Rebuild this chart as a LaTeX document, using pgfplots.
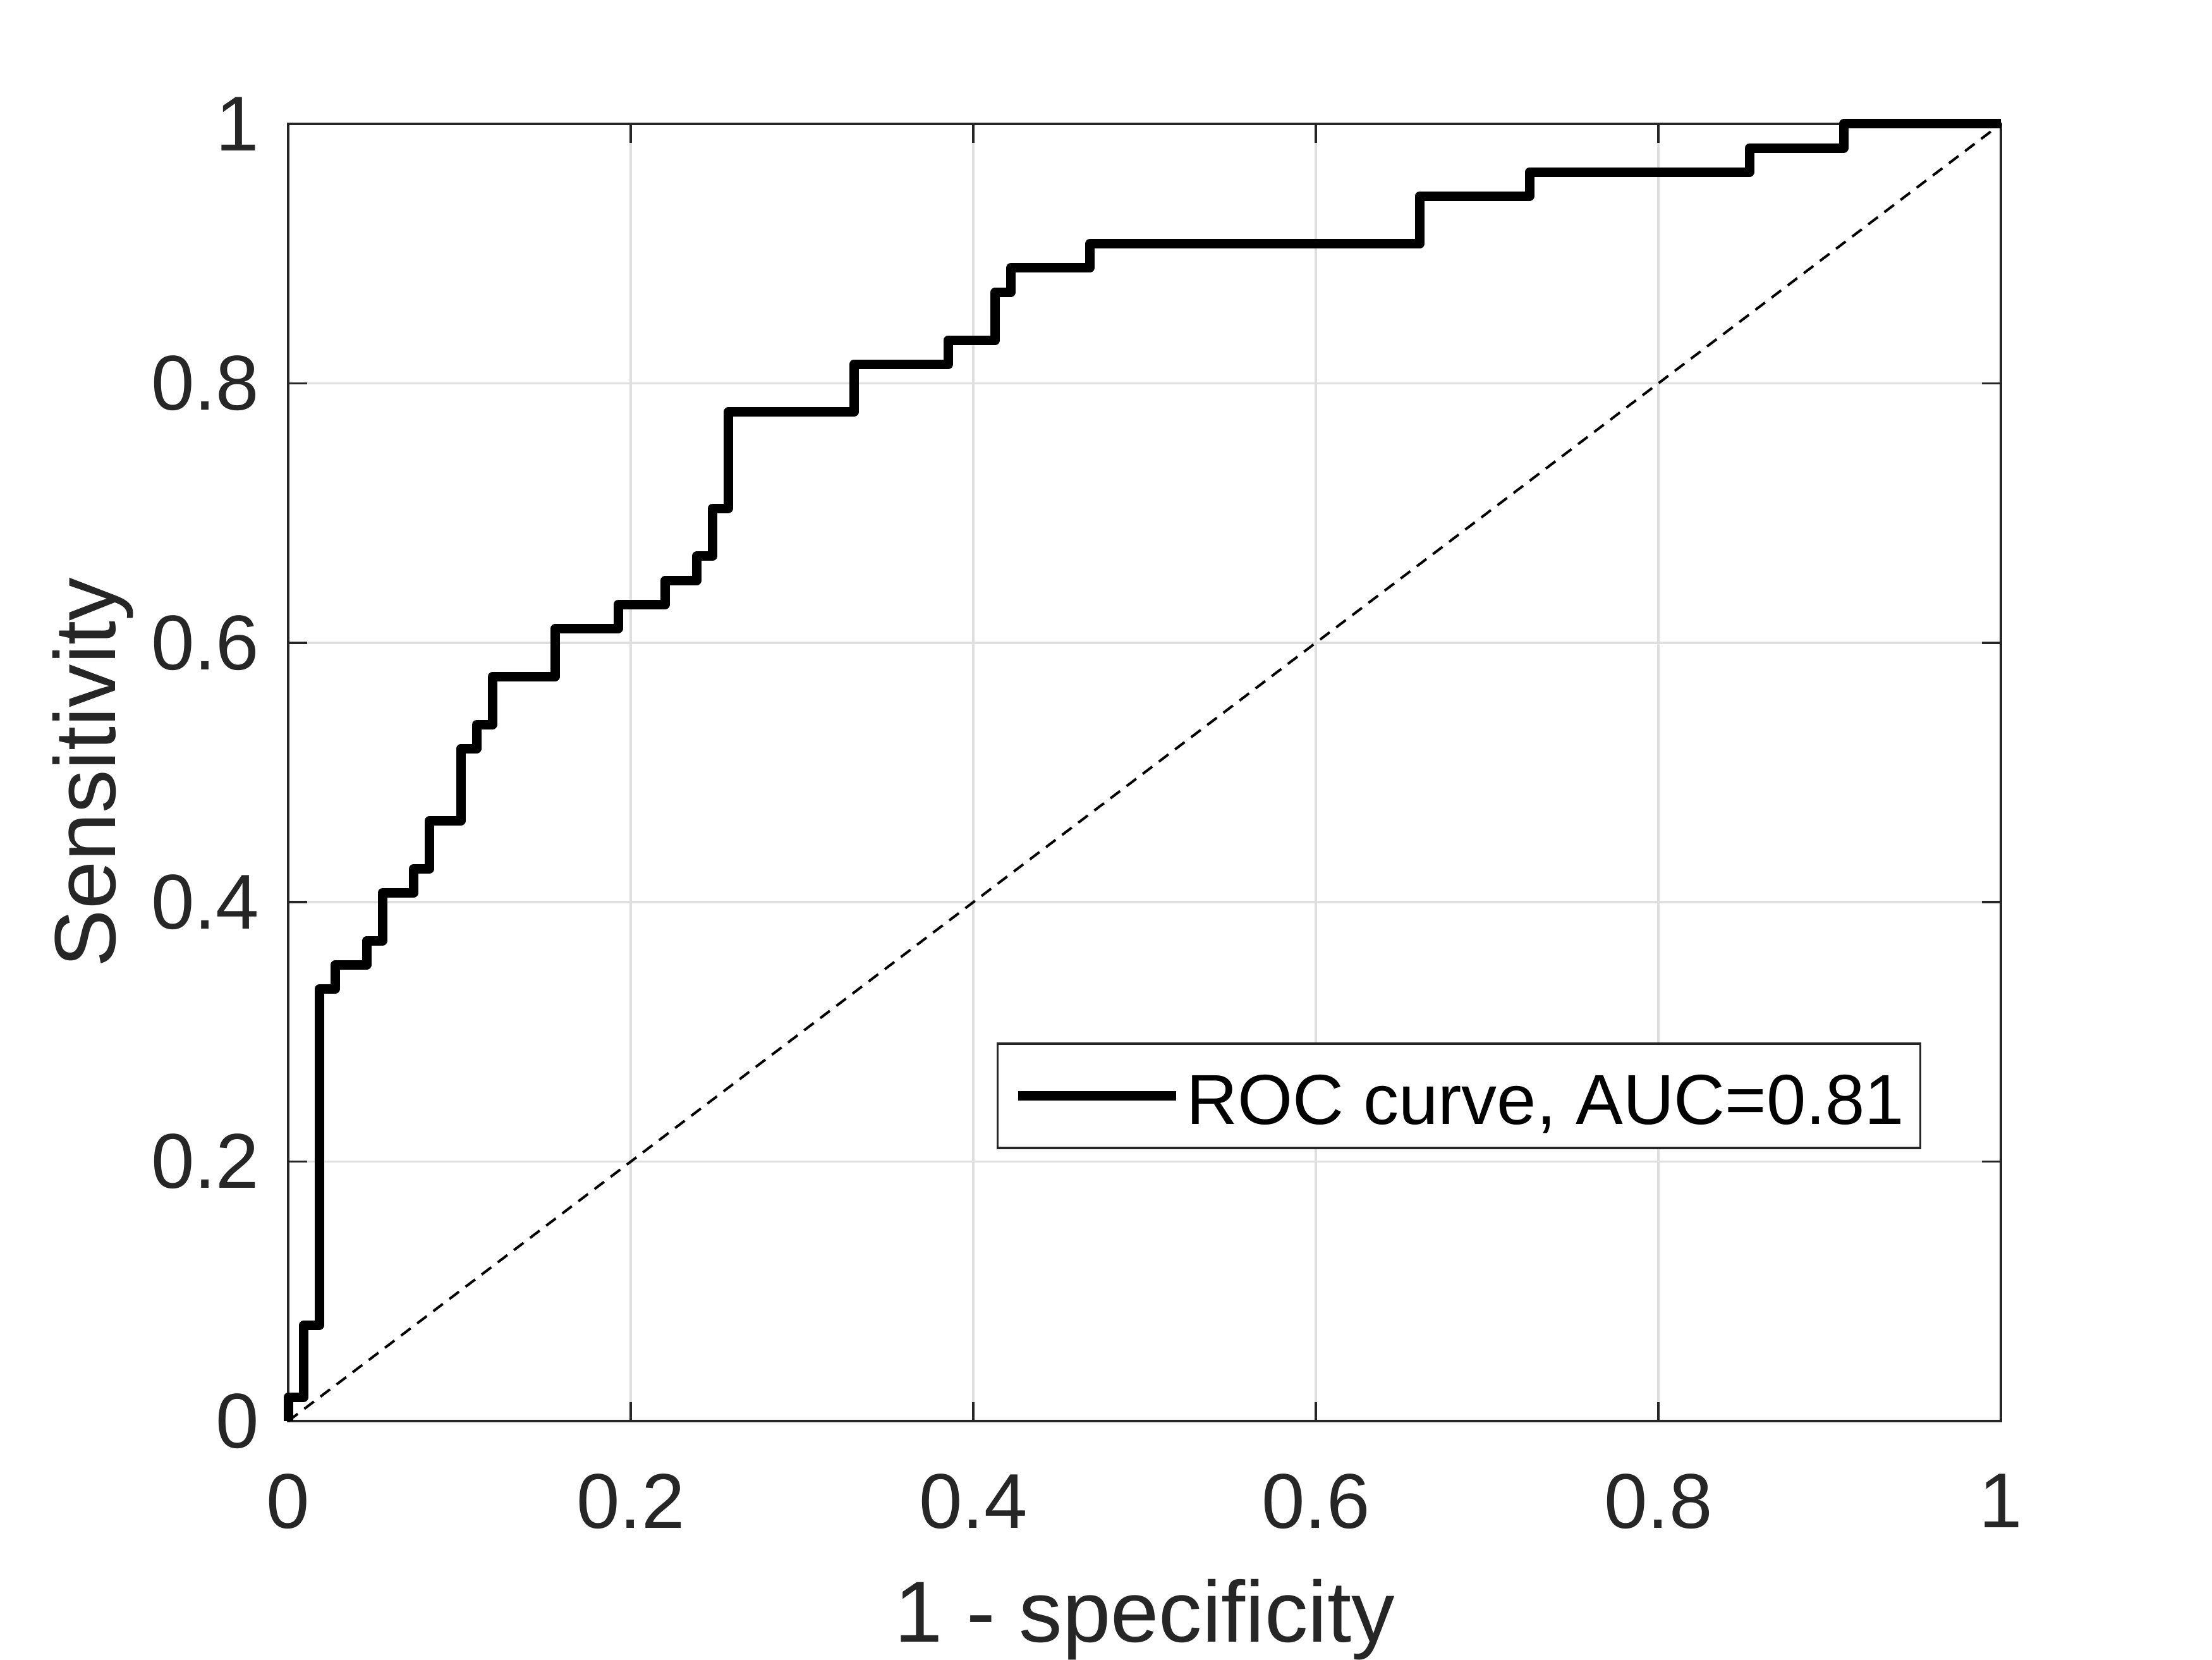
\documentclass[border=0pt]{standalone}
\usepackage{fontspec}
\setmainfont{Liberation Sans}
\usepackage{pgfplots}
\pgfplotsset{compat=1.18}
\definecolor{axgray}{HTML}{262626}
\definecolor{gridgray}{HTML}{DFDFDF}
\begin{document}
\begin{tikzpicture}
\useasboundingbox (0,0) rectangle (350pt,262.5pt);
\begin{axis}[
  at={(45.6pt,37.7pt)}, anchor=south west,
  scale only axis, width=271pt, height=205.2pt,
  xmin=0, xmax=1, ymin=0, ymax=1,
  clip=false,
  xtick={0,0.2,0.4,0.6,0.8,1}, xticklabels={0,0.2,0.4,0.6,0.8,1},
  ytick={0,0.2,0.4,0.6,0.8,1}, yticklabels={0,0.2,0.4,0.6,0.8,1},
  tick align=inside, major tick length=3pt,
  xtick pos=both, ytick pos=both,
  tick style={color=axgray, line width=0.35pt},
  axis line style={color=axgray, line width=0.35pt},
  grid=major, major grid style={color=gridgray, line width=0.35pt},
  /pgf/number format/assume math mode=true,
  ticklabel style={font=\fontsize{12.3}{14}\selectfont, text=axgray},
  xticklabel style={anchor=north, inner sep=0pt, yshift=-8.2pt},
  yticklabel style={anchor=east, inner sep=0pt, xshift=-4.4pt},
  xlabel={1 - specificity}, ylabel={Sensitivity},
  label style={font=\fontsize{13.7}{16}\selectfont, text=axgray, inner sep=0pt},
  xlabel style={at={([yshift=-34.9pt]axis description cs:0.5,0)}, anchor=base},
  ylabel style={at={([xshift=-27.3pt]axis description cs:0,0.5)}, anchor=base},
  legend style={at={(0.9535,0.2096)}, anchor=south east,
    draw=axgray, line width=0.35pt, fill=white,
    inner xsep=2.5pt, inner ysep=0pt,
    font=\fontsize{11.2}{13}\selectfont, text=black,
    nodes={inner sep=0pt, text height=12.7pt, text depth=3.8pt},
    /tikz/every odd column/.append style={column sep=0.9pt}},
  legend image code/.code={\draw[#1] (0pt,0pt) -- (25pt,0pt);},
]
\addplot[black, line width=1.5pt, line join=round] coordinates {
(0,0) (0,0.01852) (0.00917,0.01852) (0.00917,0.07407) (0.01835,0.07407)
(0.01835,0.33333) (0.02752,0.33333) (0.02752,0.35185) (0.04587,0.35185)
(0.04587,0.37037) (0.05505,0.37037) (0.05505,0.40741) (0.07339,0.40741)
(0.07339,0.42593) (0.08257,0.42593) (0.08257,0.46296) (0.10092,0.46296)
(0.10092,0.51852) (0.11009,0.51852) (0.11009,0.53704) (0.11927,0.53704)
(0.11927,0.57407) (0.15596,0.57407) (0.15596,0.61111) (0.19266,0.61111)
(0.19266,0.62963) (0.22018,0.62963) (0.22018,0.64815) (0.23853,0.64815)
(0.23853,0.66667) (0.24771,0.66667) (0.24771,0.70370) (0.25688,0.70370)
(0.25688,0.77778) (0.33028,0.77778) (0.33028,0.81481) (0.38532,0.81481)
(0.38532,0.83333) (0.41284,0.83333) (0.41284,0.87037) (0.42202,0.87037)
(0.42202,0.88889) (0.46789,0.88889) (0.46789,0.90741) (0.66055,0.90741)
(0.66055,0.94444) (0.72477,0.94444) (0.72477,0.96296) (0.85321,0.96296)
(0.85321,0.98148) (0.90826,0.98148) (0.90826,1) (1,1)
};
\addlegendentry{ROC curve, AUC=0.81}
\addplot[black, line width=0.4pt, dash pattern=on 1.9pt off 1.3pt, forget plot] coordinates {(0,0) (1,1)};
\end{axis}
\end{tikzpicture}
\end{document}
